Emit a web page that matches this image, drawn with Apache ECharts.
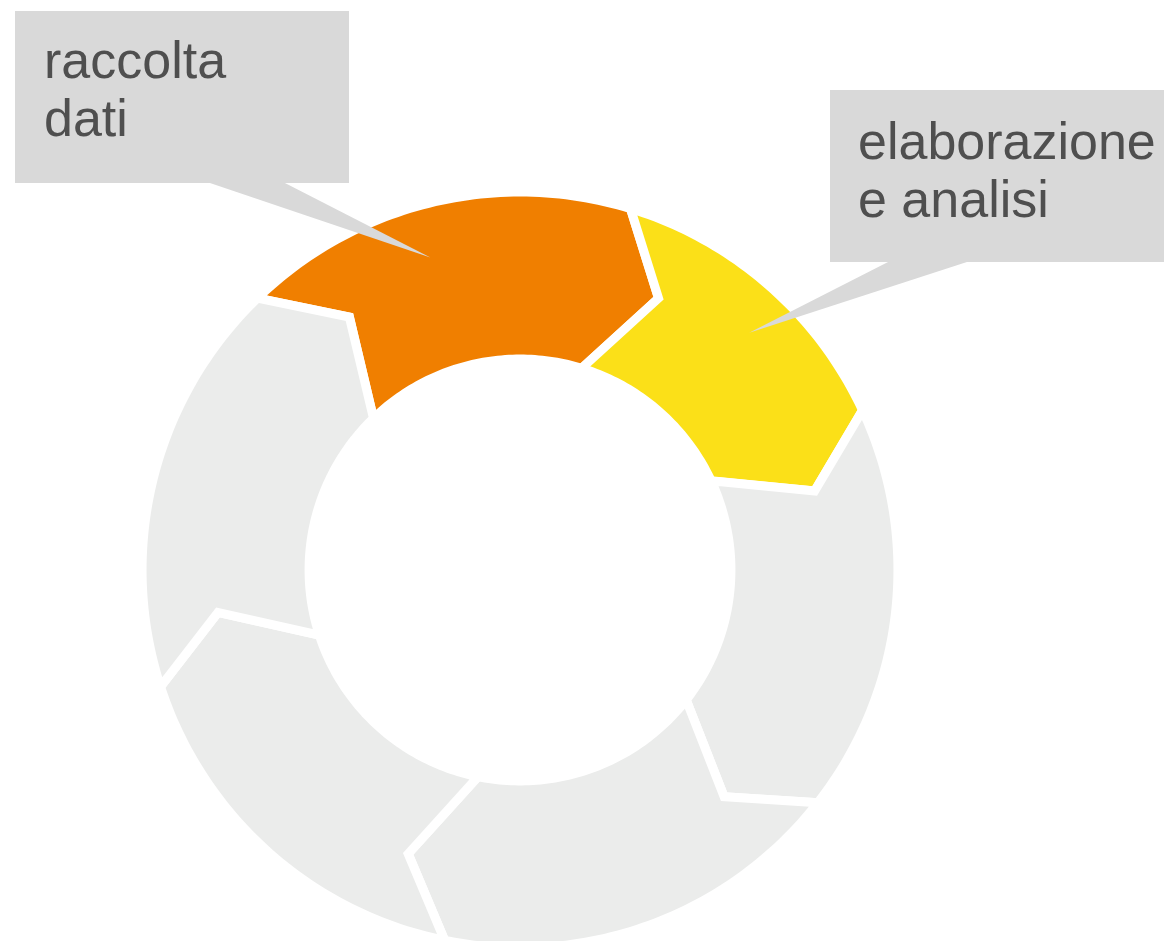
<!DOCTYPE html>
<html>
<head>
<meta charset="utf-8">
<script src="https://cdn.jsdelivr.net/npm/echarts@6/dist/echarts.min.js"></script>
<style>
html,body{margin:0;padding:0;background:#fff;}
#chart{width:1164px;height:941px;}
</style>
</head>
<body>
<div id="chart"></div>
<script>
// ---- data ----
const stageNames = ['raccolta dati', 'elaborazione e analisi', 'fase 3', 'fase 4', 'fase 5', 'fase 6'];
const stageSpans = [61, 48, 63, 63.5, 60.5, 64];           // degrees of the cycle taken by each stage
const firstStageStart = 316;                                 // clockwise from top
const stageColors = ['#F07F00', '#FBE018', '#EBECEB', '#EBECEB', '#EBECEB', '#EBECEB'];
const calloutTexts = ['raccolta\ndati', 'elaborazione\ne analisi', null, null, null, null];

// ---- layout (not data) ----
const R_IN = 0.567, R_OUT = 1.016, R_TIP = 0.82, ARROW = 10;
const calloutLayout = [
  {x: 15, y: 11, w: 334, h: 172, tx: 44, ty: 35, base: [207, 283], tipR: 0.874, tipShift: -2.5},
  {x: 830, y: 90, w: 340, h: 172, tx: 858, ty: 116, base: [890, 970], tipR: 0.887, tipShift: 3}
];

let acc = firstStageStart;
const stageData = stageSpans.map((sp, i) => {
  const item = {name: stageNames[i], value: [acc, acc + sp]};
  acc += sp;
  return item;
});

const chart = echarts.init(document.getElementById('chart'), null, {renderer: 'canvas'});

function norm(a) { return ((a % 360) + 360) % 360; }

chart.setOption({
  backgroundColor: '#ffffff',
  animation: false,
  polar: {center: [520, 570], radius: 372},
  angleAxis: {type: 'value', min: 0, max: 360, startAngle: 90, clockwise: true, show: false},
  radiusAxis: {type: 'value', min: 0, max: 1, show: false},
  series: [{
    type: 'custom',
    coordinateSystem: 'polar',
    data: stageData,
    renderItem: function (params, api) {
      const idx = params.dataIndex;
      const s = api.value(0), e = api.value(1);
      const pt = (r, a) => api.coord([r, norm(a)]);
      const pts = [];
      for (let a = s; a < e; a += 1) pts.push(pt(R_OUT, a));
      pts.push(pt(R_OUT, e));
      pts.push(pt(R_TIP, e + ARROW));
      for (let a = e; a > s; a -= 1) pts.push(pt(R_IN, a));
      pts.push(pt(R_IN, s));
      pts.push(pt(R_TIP, s + ARROW));
      const children = [{
        type: 'polygon',
        shape: {points: pts},
        style: {fill: stageColors[idx], stroke: '#ffffff', lineWidth: 9, lineJoin: 'miter', miterLimit: 2.5}
      }];
      const txt = calloutTexts[idx];
      if (txt) {
        const L = calloutLayout[idx];
        const tip = pt(L.tipR, (s + e) / 2 + L.tipShift);
        const by = L.y + L.h;
        children.push({
          type: 'polygon',
          shape: {points: [[L.base[0], by - 1], [L.base[1], by - 1], tip]},
          style: {fill: '#D9D9D9'}
        });
        children.push({
          type: 'rect',
          shape: {x: L.x, y: L.y, width: L.w, height: L.h},
          style: {fill: '#D9D9D9'}
        });
        children.push({
          type: 'text',
          style: {
            text: txt, x: L.tx, y: L.ty,
            font: '52px "Liberation Sans", Arial, sans-serif',
            fill: '#4F4F4F', lineHeight: 58, verticalAlign: 'top', align: 'left'
          }
        });
      }
      return {type: 'group', children: children};
    }
  }]
});
</script>
</body>
</html>
